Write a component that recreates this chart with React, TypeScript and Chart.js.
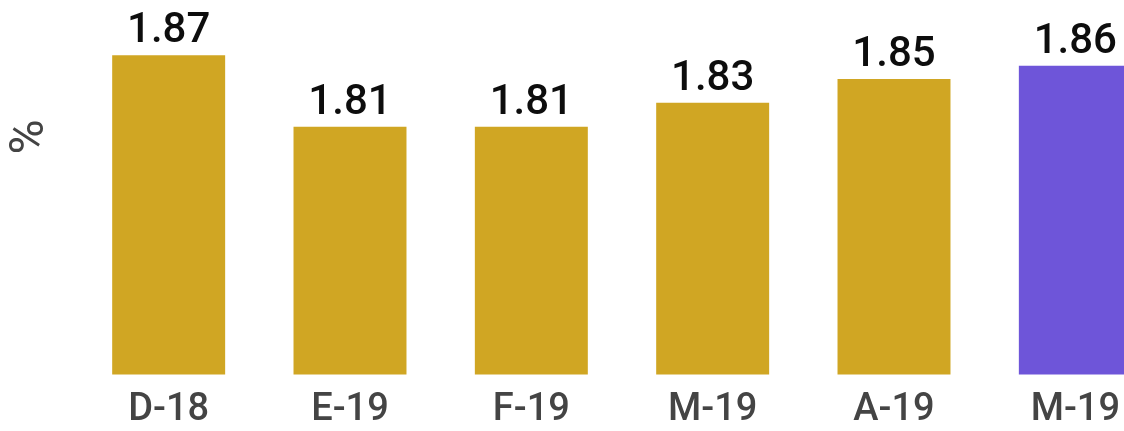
import React, { useEffect, useRef } from "react";
import { Chart, registerables } from "chart.js";

Chart.register(...registerables);

const categories = ["D-18", "E-19", "F-19", "M-19", "A-19", "M-19"];
const values = [1.868, 1.808, 1.808, 1.828, 1.848, 1.859];
const barColors = ["#D0A623", "#D0A623", "#D0A623", "#D0A623", "#D0A623", "#6E55D9"];
const yAxisLabel = "%";
const yMin = 1.6;
const yMax = 1.9;

const valueLabelPlugin = {
  id: "valueLabels",
  afterDatasetsDraw(chart: any) {
    const ctx = chart.ctx;
    const meta = chart.getDatasetMeta(0);
    ctx.save();
    ctx.font = "500 42px Roboto";
    ctx.fillStyle = "#0d0d0d";
    ctx.textAlign = "center";
    ctx.textBaseline = "alphabetic";
    meta.data.forEach((bar: any, i: number) => {
      ctx.fillText(values[i].toFixed(2), bar.x, bar.y - 13);
    });
    ctx.restore();
  },
};

const yTitlePlugin = {
  id: "yTitle",
  afterDraw(chart: any) {
    const ctx = chart.ctx;
    ctx.save();
    ctx.translate(31, 137);
    ctx.rotate(-Math.PI / 2);
    ctx.font = "48px Roboto";
    ctx.fillStyle = "#444444";
    ctx.textAlign = "center";
    ctx.textBaseline = "middle";
    ctx.fillText(yAxisLabel, 0, 0);
    ctx.restore();
  },
};

export default function App() {
  const ref = useRef<HTMLCanvasElement | null>(null);
  useEffect(() => {
    if (!ref.current) return;
    const chart = new Chart(ref.current, {
      type: "bar",
      data: {
        labels: categories,
        datasets: [
          {
            data: values,
            backgroundColor: barColors,
            borderWidth: 0,
            categoryPercentage: 1,
            barPercentage: 0.623,
          },
        ],
      },
      options: {
        animation: false,
        responsive: true,
        maintainAspectRatio: false,
        layout: { padding: { left: 78, right: 0, top: 17, bottom: -14.5 } },
        plugins: { legend: { display: false }, tooltip: { enabled: false } },
        scales: {
          x: {
            grid: { display: false, drawTicks: false },
            border: { display: false },
            ticks: {
              color: "#444444",
              padding: 16.5,
              font: { family: "Roboto", size: 38, weight: "500", lineHeight: 1 },
            },
          },
          y: {
            display: false,
            min: yMin,
            max: yMax,
          },
        },
      },
      plugins: [valueLabelPlugin, yTitlePlugin],
    });
    return () => chart.destroy();
  }, []);
  return (
    <div
      style={{
        position: "fixed",
        left: 0,
        top: 0,
        width: 1124,
        height: 431,
        overflow: "hidden",
        background: "#ffffff",
      }}
    >
      <div style={{ position: "relative", width: 1166, height: 431 }}>
        <canvas ref={ref} />
      </div>
    </div>
  );
}
